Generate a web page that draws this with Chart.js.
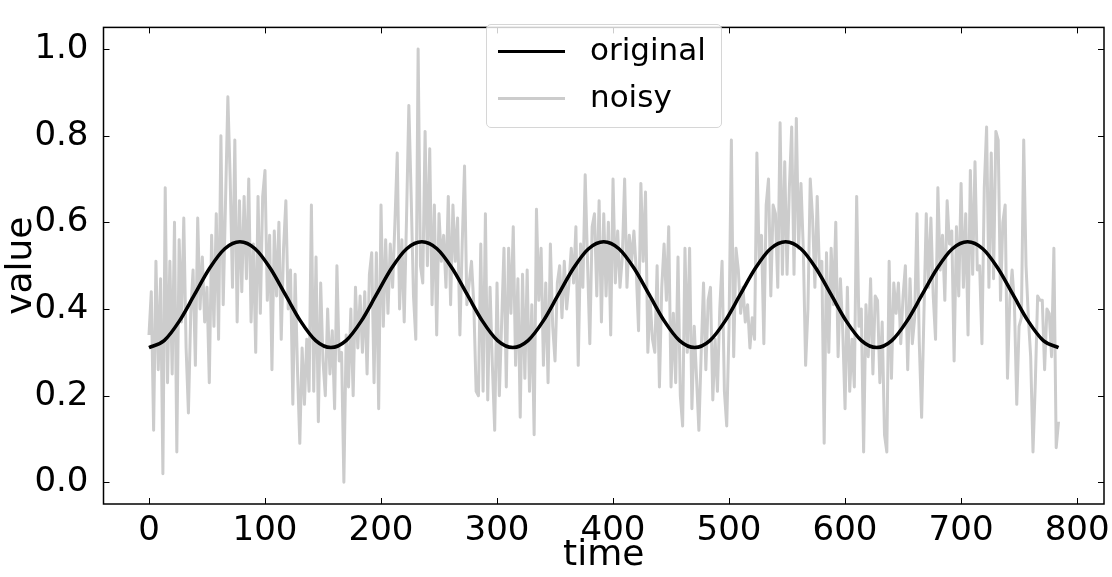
<!DOCTYPE html>
<html>
<head>
<meta charset="utf-8">
<script src="https://cdn.jsdelivr.net/npm/chart.js@4.4.1/dist/chart.umd.min.js"></script>
<style>
  html, body { margin: 0; padding: 0; background: #fff; }
  #wrap { position: relative; width: 1112px; height: 577px; font-family: "DejaVu Sans", sans-serif; }
  #legend {
    position: absolute; left: 486px; top: 24px; width: 234px; height: 102px;
    border: 1px solid #d6d6d6; border-radius: 5px; background: rgba(255,255,255,0.8);
  }
  .row { position: absolute; left: 0; height: 40px; width: 100%; }
  .swatch { position: absolute; left: 11px; width: 67px; height: 3px; }
  .label { position: absolute; left: 103px; font-size: 31px; line-height: 40px; color: #000; }
</style>
</head>
<body>
<div id="wrap">
  <canvas id="chart" width="1112" height="577"></canvas>
  <div id="legend">
    <div class="row" style="top:6px"><div class="swatch" style="top:19px;background:#000"></div><div class="label" style="top:-2px">original</div></div>
    <div class="row" style="top:53px"><div class="swatch" style="top:19px;background:#cccccc"></div><div class="label" style="top:-2px">noisy</div></div>
  </div>
</div>
<script>
// --------------------
// Data
// --------------------
const noisyStep = 2;          // time between noisy samples
const origSpan = 784;         // time covered by the original curve

// one period of the clean signal, repeated five times
const originalValues = [
  0.311, 0.327, 0.372, 0.433, 0.494, 0.539, 0.555, 0.539, 0.494, 0.433, 0.372, 0.327,
  0.311, 0.327, 0.372, 0.433, 0.494, 0.539, 0.555, 0.539, 0.494, 0.433, 0.372, 0.327,
  0.311, 0.327, 0.372, 0.433, 0.494, 0.539, 0.555, 0.539, 0.494, 0.433, 0.372, 0.327,
  0.311, 0.327, 0.372, 0.433, 0.494, 0.539, 0.555, 0.539, 0.494, 0.433, 0.372, 0.327,
  0.311, 0.327, 0.372, 0.433, 0.494, 0.539, 0.555, 0.539, 0.494, 0.433, 0.372, 0.327,
  0.311
];

const noisyValues = [
  // 0 - 68
  0.34, 0.44, 0.12, 0.51, 0.26, 0.47, 0.02, 0.68, 0.23, 0.51, 0.25, 0.60, 0.07, 0.56, 0.37, 0.61, 0.31, 0.16,
  0.39, 0.49, 0.27, 0.61, 0.40, 0.52, 0.37, 0.45, 0.23, 0.57, 0.36, 0.62, 0.33, 0.80, 0.41, 0.65, 0.89,
  // 70 - 146
  0.70, 0.45, 0.79, 0.37, 0.65, 0.44, 0.66, 0.47, 0.70, 0.37, 0.55, 0.30, 0.66, 0.39, 0.66, 0.72, 0.42, 0.57,
  0.26, 0.58, 0.43, 0.60, 0.33, 0.54, 0.65, 0.40, 0.49, 0.18, 0.48, 0.26, 0.09, 0.31, 0.18, 0.33, 0.21, 0.64,
  0.21, 0.52, 0.14,
  // 148 - 224
  0.46, 0.28, 0.20, 0.40, 0.25, 0.35, 0.17, 0.50, 0.28, 0.30, 0.00, 0.34, 0.22, 0.40, 0.20, 0.45, 0.31, 0.43,
  0.30, 0.44, 0.25, 0.48, 0.53, 0.23, 0.53, 0.17, 0.64, 0.36, 0.56, 0.39, 0.55, 0.45, 0.60, 0.76, 0.40, 0.56,
  0.37, 0.61, 0.87,
  // 226 - 304
  0.66, 0.43, 0.33, 1.00, 0.50, 0.46, 0.81, 0.50, 0.77, 0.41, 0.64, 0.34, 0.62, 0.51, 0.57, 0.45, 0.66, 0.41,
  0.64, 0.51, 0.61, 0.34, 0.55, 0.73, 0.41, 0.46, 0.51, 0.41, 0.21, 0.20, 0.55, 0.21, 0.62, 0.19, 0.45, 0.27,
  0.12, 0.46, 0.20, 0.37,
  // 306 - 382
  0.54, 0.22, 0.54, 0.39, 0.59, 0.27, 0.47, 0.15, 0.48, 0.24, 0.49, 0.21, 0.41, 0.11, 0.63, 0.42, 0.54, 0.27,
  0.46, 0.23, 0.55, 0.36, 0.28, 0.46, 0.50, 0.38, 0.51, 0.40, 0.46, 0.54, 0.46, 0.59, 0.27, 0.55, 0.45, 0.71,
  0.51, 0.32, 0.59,
  // 384 - 460
  0.62, 0.43, 0.65, 0.37, 0.62, 0.43, 0.60, 0.34, 0.70, 0.46, 0.58, 0.45, 0.52, 0.70, 0.45, 0.57, 0.51, 0.58,
  0.49, 0.35, 0.69, 0.51, 0.67, 0.30, 0.42, 0.33, 0.30, 0.50, 0.22, 0.45, 0.55, 0.42, 0.59, 0.22, 0.39, 0.23,
  0.52, 0.20, 0.13,
  // 462 - 538
  0.54, 0.30, 0.54, 0.17, 0.36, 0.24, 0.12, 0.30, 0.46, 0.26, 0.42, 0.45, 0.19, 0.33, 0.21, 0.40, 0.51, 0.21,
  0.13, 0.36, 0.79, 0.29, 0.54, 0.49, 0.39, 0.45, 0.37, 0.41, 0.31, 0.38, 0.33, 0.76, 0.51, 0.57, 0.32, 0.64,
  0.70, 0.43, 0.64,
  // 540 - 616
  0.62, 0.45, 0.83, 0.48, 0.74, 0.48, 0.68, 0.82, 0.48, 0.84, 0.54, 0.69, 0.54, 0.27, 0.40, 0.70, 0.61, 0.45,
  0.66, 0.48, 0.51, 0.09, 0.53, 0.30, 0.54, 0.41, 0.60, 0.29, 0.47, 0.35, 0.17, 0.45, 0.21, 0.33, 0.22, 0.66,
  0.36, 0.40, 0.07,
  // 618 - 694
  0.41, 0.29, 0.47, 0.25, 0.43, 0.42, 0.23, 0.37, 0.11, 0.07, 0.51, 0.24, 0.46, 0.39, 0.46, 0.32, 0.43, 0.50,
  0.26, 0.47, 0.32, 0.38, 0.62, 0.32, 0.15, 0.39, 0.62, 0.45, 0.61, 0.43, 0.33, 0.68, 0.49, 0.57, 0.42, 0.65,
  0.55, 0.58, 0.28,
  // 696 - 784
  0.59, 0.43, 0.69, 0.45, 0.62, 0.34, 0.72, 0.48, 0.74, 0.49, 0.50, 0.32, 0.68, 0.82, 0.45, 0.76, 0.47, 0.81,
  0.79, 0.42, 0.60, 0.64, 0.24, 0.42, 0.49, 0.41, 0.18, 0.36, 0.38, 0.79, 0.50, 0.38, 0.29, 0.07, 0.23, 0.43,
  0.42, 0.42, 0.26, 0.40, 0.39, 0.29, 0.54, 0.08, 0.14
];

const xTickStep = 100;
const yTickStep = 0.2;

// --------------------
// Build points
// --------------------
const origStep = origSpan / (originalValues.length - 1);
const originalPoints = originalValues.map((v, i) => ({ x: i * origStep, y: v }));
const noisyPoints = noisyValues.map((v, i) => ({ x: i * noisyStep, y: v }));

// frame + inward ticks on all four sides, matplotlib style
const frameTicks = {
  id: "frameTicks",
  afterDatasetsDraw(chart) {
    const { ctx, chartArea: a, scales } = chart;
    const len = 6;
    ctx.save();
    ctx.strokeStyle = "#000";
    ctx.lineWidth = 1;
    ctx.beginPath();
    scales.x.ticks.forEach(t => {
      const px = Math.round(scales.x.getPixelForValue(t.value)) + 0.5;
      ctx.moveTo(px, a.bottom); ctx.lineTo(px, a.bottom - len);
      ctx.moveTo(px, a.top); ctx.lineTo(px, a.top + len);
    });
    scales.y.ticks.forEach(t => {
      const py = Math.round(scales.y.getPixelForValue(t.value)) + 0.5;
      ctx.moveTo(a.left, py); ctx.lineTo(a.left + len, py);
      ctx.moveTo(a.right, py); ctx.lineTo(a.right - len, py);
    });
    ctx.stroke();
    ctx.lineWidth = 1.5;
    ctx.strokeRect(a.left, a.top, a.right - a.left, a.bottom - a.top);
    ctx.restore();
  }
};

new Chart(document.getElementById("chart"), {
  type: "line",
  data: {
    datasets: [
      {
        label: "original",
        data: originalPoints,
        borderColor: "#000000",
        borderWidth: 3.5,
        pointRadius: 0,
        cubicInterpolationMode: "monotone",
        order: 0
      },
      {
        label: "noisy",
        data: noisyPoints,
        borderColor: "#cccccc",
        borderWidth: 3,
        borderJoinStyle: "round",
        pointRadius: 0,
        tension: 0,
        order: 1
      }
    ]
  },
  options: {
    responsive: false,
    animation: false,
    devicePixelRatio: 1,
    layout: { padding: { top: 7, right: 8, left: 0, bottom: 0 } },
    plugins: { legend: { display: false }, tooltip: { enabled: false } },
    scales: {
      x: {
        type: "linear",
        min: -39.2,
        max: 823.2,
        grid: { display: false },
        border: { display: false },
        ticks: {
          stepSize: xTickStep,
          includeBounds: false,
          maxRotation: 0,
          autoSkip: false,
          padding: -1,
          color: "#000",
          font: { family: "DejaVu Sans", size: 34 },
          callback: v => String(v)
        },
        title: {
          display: true, text: "time", color: "#000",
          font: { family: "DejaVu Sans", size: 36 },
          padding: { top: 0, bottom: 0 }
        },
        afterFit: s => { s.height = 73; }
      },
      y: {
        type: "linear",
        min: -0.05,
        max: 1.05,
        grid: { display: false },
        border: { display: false },
        ticks: {
          stepSize: yTickStep,
          includeBounds: false,
          padding: 7,
          color: "#000",
          font: { family: "DejaVu Sans", size: 34 },
          callback: v => v.toFixed(1)
        },
        title: {
          display: true, text: "value", color: "#000",
          font: { family: "DejaVu Sans", size: 36 },
          padding: { top: 0, bottom: 0 }
        },
        afterFit: s => { s.width = 103.5; }
      }
    }
  },
  plugins: [frameTicks]
});
</script>
</body>
</html>
